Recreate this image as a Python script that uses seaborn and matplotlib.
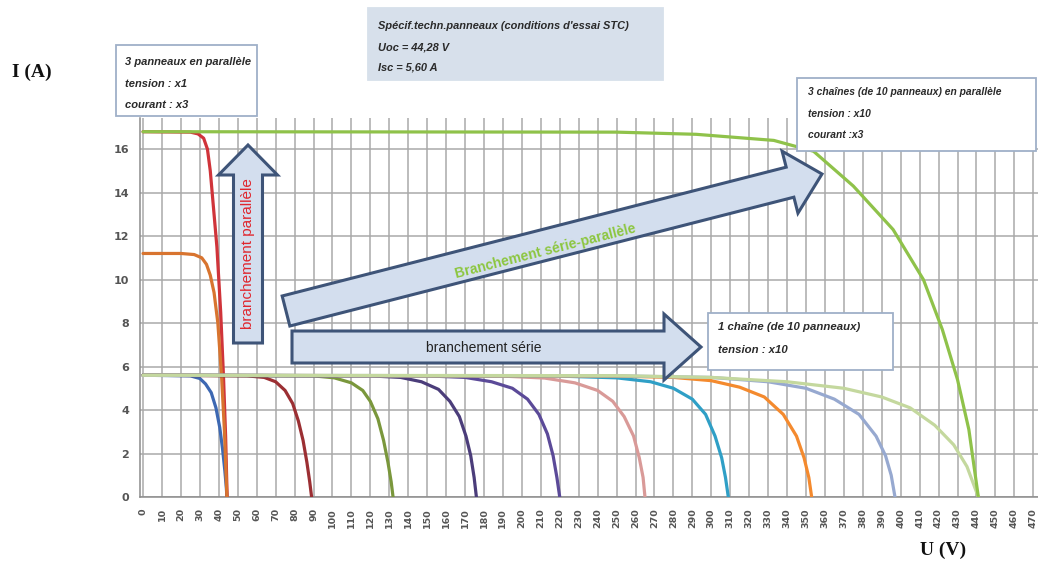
import matplotlib
matplotlib.use("Agg")
import matplotlib.pyplot as plt
from matplotlib.patches import Polygon, Rectangle
import numpy as np
import pandas as pd
import seaborn as sns

# ---------------- data ----------------
u_1p = [0, 25, 30, 33, 36, 38.5, 40.5, 42, 43.2, 44, 44.3]
i_1p = [5.6, 5.57, 5.45, 5.2, 4.8, 4.1, 3.2, 2.2, 1.2, 0.4, 0]

u_3par = [0, 25, 29, 32, 34, 35.5, 37, 39, 41, 42.5, 43.6, 44.4]
i_3par = [16.8, 16.78, 16.7, 16.5, 16.0, 15.0, 13.5, 11.5, 8.5, 5.5, 2.8, 0]

u_2par = [0, 20, 27, 31, 33.5, 35.5, 37.5, 39.5, 41.5, 43, 44.3]
i_2par = [11.2, 11.2, 11.15, 11.0, 10.7, 10.2, 9.4, 8.0, 5.5, 3.0, 0]

u_s2 = [0, 55, 64, 70, 75, 79, 82, 84.5, 86.5, 88, 89]
i_s2 = [5.6, 5.57, 5.5, 5.3, 4.9, 4.3, 3.5, 2.6, 1.6, 0.7, 0]

u_s3 = [0, 90, 101, 110, 116, 120, 124, 127, 129.3, 131, 132]
i_s3 = [5.6, 5.57, 5.48, 5.25, 4.9, 4.4, 3.6, 2.6, 1.6, 0.7, 0]

u_s4 = [0, 120, 136, 147, 156, 162, 167, 170.5, 173, 174.8, 176]
i_s4 = [5.6, 5.57, 5.5, 5.3, 4.95, 4.4, 3.7, 2.8, 1.9, 0.9, 0]

u_s5 = [0, 150, 170, 184, 195, 203, 209, 213.5, 216.5, 218.5, 220]
i_s5 = [5.6, 5.57, 5.5, 5.3, 5.0, 4.5, 3.8, 2.9, 1.9, 0.9, 0]

u_s6 = [0, 190, 212, 228, 240, 248, 254, 259, 262, 264, 265]
i_s6 = [5.6, 5.56, 5.47, 5.25, 4.9, 4.4, 3.7, 2.8, 1.8, 0.9, 0]

u_s7 = [0, 220, 250, 268, 280, 290, 297, 302, 305.5, 307.5, 309]
i_s7 = [5.6, 5.56, 5.48, 5.3, 5.0, 4.5, 3.8, 2.8, 1.8, 0.9, 0]

u_s8 = [0, 250, 280, 300, 315, 328, 338, 345, 349, 351.5, 353]
i_s8 = [5.6, 5.56, 5.5, 5.35, 5.05, 4.6, 3.8, 2.8, 1.8, 0.9, 0]

u_s9 = [0, 250, 300, 330, 350, 365, 378, 387, 392, 395, 397]
i_s9 = [5.6, 5.57, 5.5, 5.3, 5.0, 4.5, 3.8, 2.8, 1.9, 1.0, 0]

u_s10 = [0, 250, 300, 340, 370, 390, 405, 418, 428, 435, 441]
i_s10 = [5.6, 5.58, 5.5, 5.3, 5.0, 4.6, 4.1, 3.3, 2.4, 1.4, 0]

u_3x10 = [0, 250, 292, 333, 354, 375, 396, 412, 422, 430, 436, 441]
i_3x10 = [16.8, 16.78, 16.68, 16.4, 15.9, 14.3, 12.3, 10.0, 7.7, 5.4, 3.1, 0]

curve_names = ["1p", "3par", "2par", "s2", "s3", "s4", "s5", "s6", "s7", "s8", "s9", "s10", "3x10"]
curve_u = [u_1p, u_3par, u_2par, u_s2, u_s3, u_s4, u_s5, u_s6, u_s7, u_s8, u_s9, u_s10, u_3x10]
curve_i = [i_1p, i_3par, i_2par, i_s2, i_s3, i_s4, i_s5, i_s6, i_s7, i_s8, i_s9, i_s10, i_3x10]
curve_colors = ["#3d68b2", "#d0343a", "#d8742f", "#9b2f33", "#7a973c", "#4b3d7a",
                "#5b4a98", "#d99a98", "#2f9fc6", "#f48a2e", "#97a9d0", "#c4d89e", "#8fc24a"]

x_ticks = list(range(0, 471, 10))
y_ticks = list(range(0, 17, 2))

# ---------------- figure ----------------
W, H = 1038, 572
sns.set_style("white")
fig = plt.figure(figsize=(W / 100, H / 100), dpi=100)

def px(x, y):
    return (x / W, 1 - y / H)

ax = fig.add_axes([140 / W, 1 - 497 / H, 898 / W, 379 / H])

df = pd.concat([pd.DataFrame({"U": u, "I": i, "curve": n})
                for n, u, i in zip(curve_names, curve_u, curve_i)], ignore_index=True)
sns.lineplot(data=df, x="U", y="I", hue="curve", hue_order=curve_names,
             palette=dict(zip(curve_names, curve_colors)), estimator=None, sort=False,
             units="curve", legend=False, linewidth=2.3, ax=ax, zorder=3)

ax.set_xlim(-1.6, 472.5)
ax.set_ylim(0, 17.43)
ax.set_xticks(x_ticks)
ax.set_yticks(y_ticks)
ax.set_xticklabels([str(v) for v in x_ticks], rotation=90, fontsize=6.8,
                   color="#555555", fontweight="bold")
ax.set_yticklabels([str(v) for v in y_ticks], fontsize=8, color="#555555", fontweight="bold")
ax.grid(True, color="#a9a9a9", linewidth=1.1, zorder=0)
ax.set_axisbelow(True)
for s in ["top", "right"]:
    ax.spines[s].set_visible(False)
for s in ["left", "bottom"]:
    ax.spines[s].set_color("#8c8c8c")
    ax.spines[s].set_linewidth(1.1)
ax.tick_params(axis="both", direction="out", length=5, color="#9a9a9a", width=1, pad=3)
ax.set_xlabel("")
ax.set_ylabel("")

# axis titles
fig.text(*px(12, 72), "I (A)", fontsize=14, fontweight="bold", family="Liberation Serif",
         va="center", ha="left", color="#111111")
fig.text(*px(920, 550), "U (V)", fontsize=14, fontweight="bold", family="Liberation Serif",
         va="center", ha="left", color="#111111")

sansf = ["Liberation Sans", "DejaVu Sans"]

def box(x0, y0, x1, y1, face, edge):
    r = Rectangle(px(x0, y1), (x1 - x0) / W, (y1 - y0) / H, transform=fig.transFigure,
                  facecolor=face, edgecolor=edge, linewidth=1.3, zorder=10)
    fig.add_artist(r)

def lines(x, ys, texts, size=8):
    for y, t in zip(ys, texts):
        fig.text(*px(x, y), t, fontsize=size, family=sansf, style="italic",
                 fontweight="bold", color="#2a2a2a", va="center", ha="left", zorder=11)

box(116, 45, 257, 116, "white", "#9fb0c8")
lines(125, [62, 84, 105], ["3 panneaux en parallèle", "tension : x1", "courant : x3"], 8)

box(368, 8, 663, 80, "#d7e0eb", "#d7e0eb")
lines(378, [26, 47, 68], ["Spécif.techn.panneaux (conditions d'essai STC)",
                          "Uoc = 44,28 V", "Isc = 5,60 A"], 7.9)

box(797, 78, 1036, 151, "white", "#9fb0c8")
lines(808, [92, 114, 135], ["3 chaînes (de 10 panneaux) en parallèle",
                            "tension : x10", "courant :x3"], 7.4)

box(708, 313, 893, 370, "white", "#9fb0c8")
lines(718, [327, 350], ["1 chaîne (de 10 panneaux)", "tension : x10"], 8.2)

# block arrows
def block_arrow(tail, tip, shaft_w, head_w, head_l):
    t = np.array(tail, float)
    p = np.array(tip, float)
    d = p - t
    L = np.hypot(*d)
    d /= L
    n = np.array([-d[1], d[0]])
    b = p - d * head_l
    pts = [t + n * shaft_w / 2, b + n * shaft_w / 2, b + n * head_w / 2, p,
           b - n * head_w / 2, b - n * shaft_w / 2, t - n * shaft_w / 2]
    pts = [px(*q) for q in pts]
    poly = Polygon(pts, closed=True, transform=fig.transFigure, facecolor="#d3deee",
                   edgecolor="#3e5478", linewidth=2.2, zorder=8, joinstyle="miter")
    fig.add_artist(poly)

block_arrow((248, 343), (248, 145), 29, 59, 30)
block_arrow((286, 311), (822, 174), 31, 64, 33)
block_arrow((292, 347), (701, 347), 32, 66, 37)

fig.text(*px(248, 254), "branchement parallèle", rotation=90, fontsize=11, family=sansf,
         color="#e0262e", va="center", ha="center", zorder=9)
fig.text(*px(545, 251), "Branchement série-parallèle", rotation=14.3, fontsize=10,
         family=sansf, color="#8cc63f", fontweight="bold", va="center", ha="center",
         zorder=9, rotation_mode="anchor")
fig.text(*px(484, 348), "branchement série", fontsize=10, family=sansf,
         color="#222222", va="center", ha="center", zorder=9)

fig.savefig("out.png", dpi=100)
